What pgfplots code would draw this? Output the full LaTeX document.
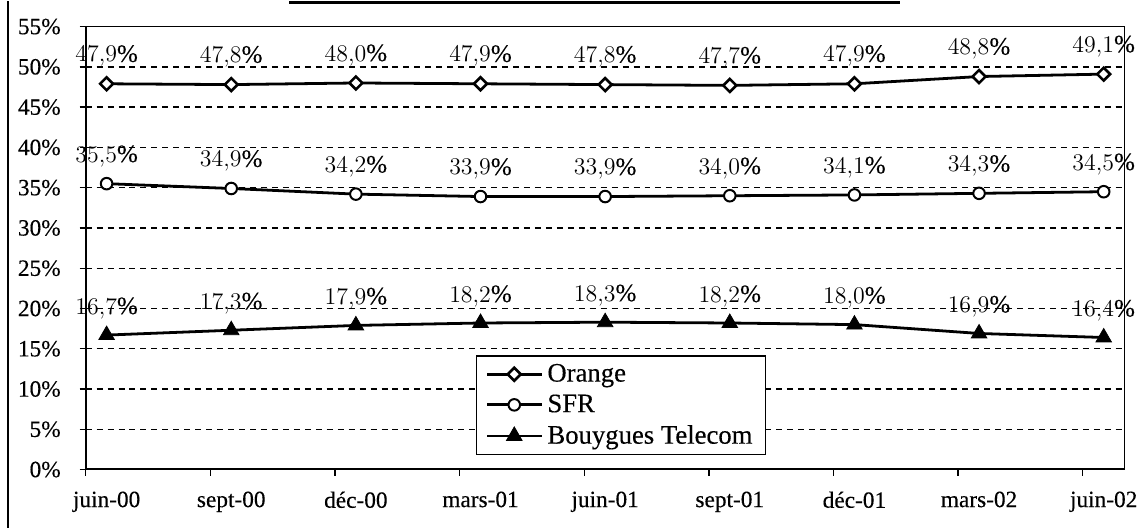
\documentclass[border=0pt]{standalone}
\usepackage{fontspec}
\setmainfont{Liberation Serif}[FakeBold=0.3]
\usepackage{pgfplots}
\pgfplotsset{compat=1.18}

\begin{document}
\begin{tikzpicture}
\begin{axis}[
  scale only axis, width=521.5pt, height=222.35pt,
  xmin=-0.168, xmax=8.168, ymin=0, ymax=55,
  axis line style={line width=0.7pt},
  xtick={0,1,2,3,4,5,6,7,8},
  xticklabels={juin-00,sept-00,déc-00,mars-01,juin-01,sept-01,déc-01,mars-02,juin-02},
  minor xtick={-0.168,0.832,1.832,2.832,3.832,4.832,5.832,6.832,7.832},
  xtick pos=bottom, ytick pos=left,
  tick align=outside,
  major x tick style={draw=none},
  minor x tick style={line width=0.7pt, black},
  major y tick style={line width=0.7pt, black},
  minor tick length=3pt, major tick length=3pt,
  ytick={0,5,...,55},
  yticklabels={0\%,5\%,10\%,15\%,20\%,25\%,30\%,35\%,40\%,45\%,50\%,55\%},
  ymajorgrids,
  grid style={black, line width=0.7pt, dash pattern=on 3pt off 2.5pt},
  ticklabel style={font=\fontsize{11.7}{13}\selectfont},
  yticklabel style={xshift=-6pt},
  xticklabel style={yshift=-4.5pt},
  nodes near coords={\pgfmathprintnumber[fixed,fixed zerofill,precision=1,use comma]{\pgfplotspointmeta}\%},
  every node near coord/.append style={font=\fontsize{12.6}{14}\selectfont, inner sep=0pt, anchor=south, yshift=8pt, black},
  legend style={at={(0.3758,0.2579)}, anchor=north west, draw=black, line width=0.6pt,
    font=\fontsize{13.4}{15}\selectfont, inner xsep=4.5pt, inner ysep=2pt, row sep=1pt,
    cells={anchor=west}},
  legend image code/.code={
    \draw[mark repeat=2,mark phase=2,#1] plot coordinates {(0cm,0cm) (0.48cm,0cm) (0.97cm,0cm)};
  },
]
\addplot[black, line width=1.4pt, mark=square*, mark options={rotate=45, mark size=2.3pt, fill=white, line width=1.3pt}]
  coordinates {(0,47.9) (1,47.8) (2,48.0) (3,47.9) (4,47.8) (5,47.7) (6,47.9) (7,48.8) (8,49.1)};
\addlegendentry{Orange}
\addplot[black, line width=1.4pt, mark=*, mark options={mark size=2.9pt, fill=white, line width=1pt}]
  coordinates {(0,35.5) (1,34.9) (2,34.2) (3,33.9) (4,33.9) (5,34.0) (6,34.1) (7,34.3) (8,34.5)};
\addlegendentry{SFR}
\addplot[black, line width=1.4pt, mark=triangle*, mark options={mark size=4.5pt, fill=black, line width=0.4pt}]
  coordinates {(0,16.7) (1,17.3) (2,17.9) (3,18.2) (4,18.3) (5,18.2) (6,18.0) (7,16.9) (8,16.4)};
\addlegendentry{Bouygues Telecom}
\draw[line width=1.1pt] (axis description cs:0,0) -- (axis description cs:0,1);
\draw[line width=1.1pt] (axis description cs:0,0) -- (axis description cs:1,0);
\end{axis}
\draw[line width=0.7pt] (-39pt,-29.15pt) -- (-39pt,235.35pt);
\fill (102pt,235.35pt) rectangle (408.5pt,233.85pt);
\path[use as bounding box] (-43pt,-29.15pt) rectangle (529pt,235.35pt);
\end{tikzpicture}
\end{document}
